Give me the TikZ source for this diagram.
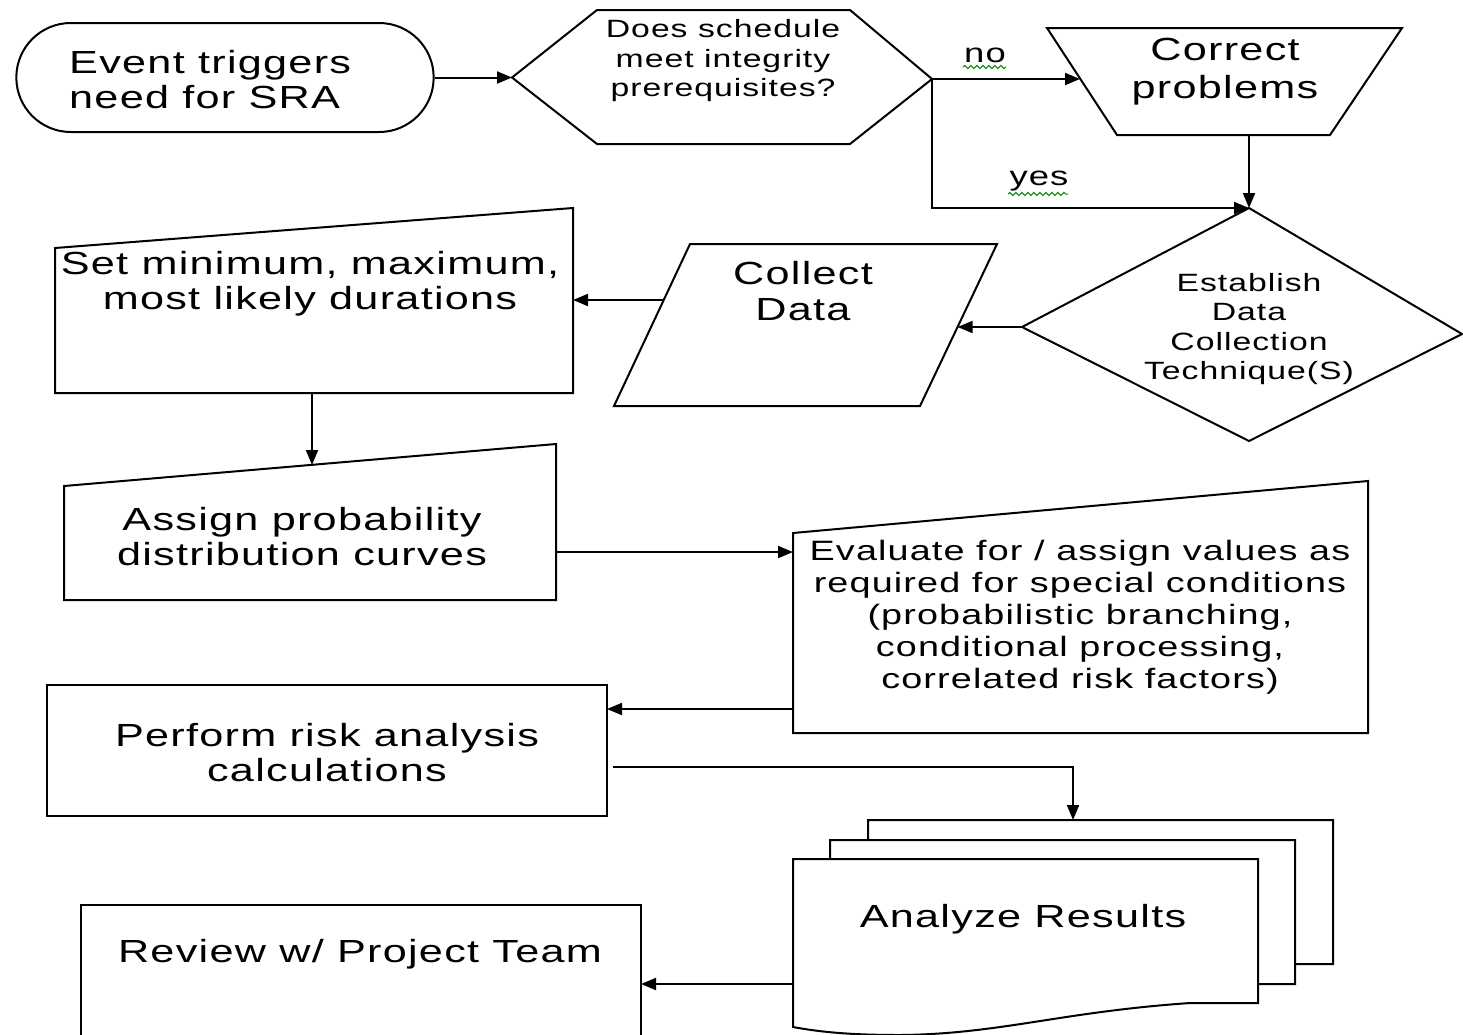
\documentclass[tikz,border=0pt]{standalone}
\usepackage{fontspec}
\setmainfont{Liberation Sans}
\newfontfamily\wfont[FakeStretch=1.35,LetterSpace=4]{Liberation Sans}
\usetikzlibrary{arrows.meta,decorations.pathmorphing,shapes.misc}
\tikzset{
  shp/.style={draw=black, line width=2pt, line join=miter},
  conn/.style={draw=black, line width=2pt},
  arr/.style={conn, -{Triangle[length=15pt,width=12pt]}},
  txtA/.style={font=\wfont\fontsize{32}{35}\selectfont, align=center, inner sep=0pt},
  txtB/.style={font=\wfont\fontsize{25}{29.5}\selectfont, align=center, inner sep=0pt},
  txtC/.style={font=\wfont\fontsize{28}{32}\selectfont, align=center, inner sep=0pt},
  lbl/.style={font=\wfont\fontsize{27}{30}\selectfont, inner sep=0pt},
  squig/.style={draw=green!55!black, line width=1pt, decorate,
    decoration={snake, amplitude=1.6pt, segment length=6pt}},
}
\begin{document}
\begin{tikzpicture}[x=1pt,y=-1pt]
\clip (0,0) rectangle (1463,1034);
\fill[white] (0,0) rectangle (1463,1034);

% ---- terminal
\node[shp, rounded rectangle, minimum width=424pt, minimum height=109pt] (term) at (225,77.5) {};
\node[txtA, align=left, anchor=west] (termtxt) at (69,80) {Event triggers\\need for SRA};

% ---- hexagon decision
\coordinate (hexW) at (512,77.5);
\coordinate (hexE) at (932,79);
\draw[shp] (hexW) -- (597,10) -- (850,10) -- (hexE) -- (850,144) -- (597,144) -- cycle;
\node[txtB] (hextxt) at (723,61) {Does schedule\\meet integrity\\prerequisites?};

% ---- correct problems (trapezoid)
\coordinate (cpW) at (1080,79);
\coordinate (cpS) at (1249,135);
\draw[shp] (1047,28) -- (1402,28) -- (1330,135) -- (1117,135) -- cycle;
\node[txtA, font=\wfont\fontsize{32}{38}\selectfont] (cptxt) at (1225,72) {Correct\\problems};

% ---- diamond
\coordinate (dmN) at (1249,208);
\coordinate (dmW) at (1022,327);
\draw[shp] (dmN) -- (1462,334) -- (1249,441) -- (dmW) -- cycle;
\node[txtB] (dmtxt) at (1249,329) {Establish\\Data\\Collection\\Technique(S)};

% ---- collect data (parallelogram)
\coordinate (cdE) at (957.6,327);
\coordinate (cdW) at (663.7,300);
\draw[shp] (690,244) -- (997,244) -- (920,406) -- (614,406) -- cycle;
\node[txtA, font=\wfont\fontsize{32}{36}\selectfont] (cdtxt) at (803,291) {Collect\\Data};

% ---- set min/max (manual input)
\coordinate (smE) at (573,300);
\coordinate (smS) at (312,393);
\draw[shp] (55,248) -- (573,208) -- (573,393) -- (55,393) -- cycle;
\node[txtA] (smtxt) at (310,284) {Set minimum, maximum,\\most likely durations};

% ---- assign (manual input)
\coordinate (asN) at (312,465);
\coordinate (asE) at (556,552);
\draw[shp] (64,486) -- (556,444) -- (556,600) -- (64,600) -- cycle;
\node[txtA] (astxt) at (302,537) {Assign probability\\distribution curves};

% ---- evaluate (manual input)
\coordinate (evW) at (793,552);
\coordinate (evOut) at (793,709);
\draw[shp] (793,533) -- (1368,481) -- (1368,733) -- (793,733) -- cycle;
\node[txtC] (evtxt) at (1080,617) {Evaluate for / assign values as\\required for special conditions\\(probabilistic branching,\\conditional processing,\\correlated risk factors)};

% ---- perform
\coordinate (pfE) at (607,709);
\coordinate (pfOut) at (613,767);
\draw[shp] (47,685) rectangle (607,816);
\node[txtA] (pftxt) at (327,753) {Perform risk analysis\\calculations};

% ---- analyze results (multi-document)
\foreach \dx/\dy in {75/-39, 37/-19, 0/0}{
  \draw[shp, fill=white, shift={(\dx,\dy)}]
    (793,859) -- (1258,859) -- (1258,1003) -- (1190,1003)
    .. controls (1060,1012) and (1000,1034) .. (900,1035)
    .. controls (850,1035) and (820,1032) .. (793,1027) -- cycle;
}
\coordinate (adTop) at (1073,820);
\coordinate (adW) at (793,984);
\node[txtA] (adtxt) at (1023,919) {Analyze Results};

% ---- review
\coordinate (rvE) at (641,984);
\draw[shp] (81,905) rectangle (641,1060);
\node[txtA] (rvtxt) at (360,954) {Review w/ Project Team};

% ---- connectors
\draw[arr] (term.east) -- (hexW);
\draw[arr] (hexE) -- (cpW);
\draw[arr] (hexE) |- (dmN);
\draw[arr] (cpS) -- (dmN);
\draw[arr] (dmW) -- (cdE);
\draw[arr] (cdW) -- (smE);
\draw[arr] (smS) -- (asN);
\draw[arr] (asE) -- (evW);
\draw[arr] (evOut) -- (pfE);
\draw[arr] (pfOut) -| (adTop);
\draw[arr] (adW) -- (rvE);

% ---- labels
\node[lbl] (nolbl) at (985,55) {no};
\draw[squig] (963,67) -- (1006,67);
\node[lbl] (yeslbl) at (1039,181) {yes};
\draw[squig] (1008,194) -- (1068,194);
\end{tikzpicture}
\end{document}
